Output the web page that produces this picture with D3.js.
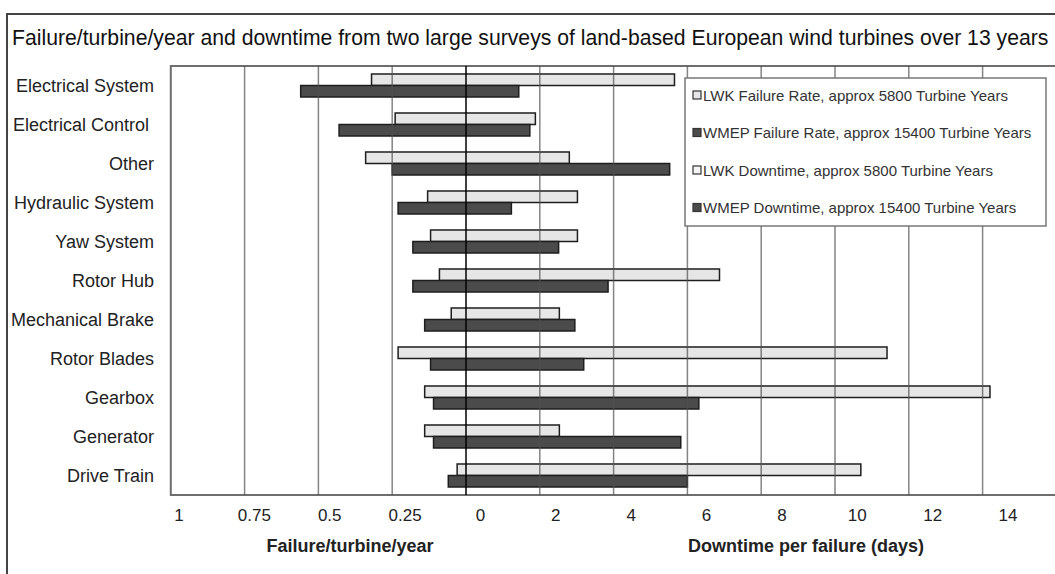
<!DOCTYPE html>
<head>
  <meta charset="utf-8">
  <script src="https://d3js.org/d3.v7.min.js"></script>
  <style>
    body { margin:0; background:#fff; }
    text { font-family: "Liberation Sans", Arial, sans-serif; }
  </style>
</head>
<body>
<script>
  // data
  var categories = ["Electrical System", "Electrical Control ", "Other", "Hydraulic System", "Yaw System",
                    "Rotor Hub", "Mechanical Brake", "Rotor Blades", "Gearbox", "Generator", "Drive Train"];
  var lwkFailure   = [0.32, 0.24, 0.34, 0.13, 0.12, 0.09, 0.05, 0.23, 0.14, 0.14, 0.03];
  var wmepFailure  = [0.56, 0.43, 0.25, 0.23, 0.18, 0.18, 0.14, 0.12, 0.11, 0.11, 0.06];
  var lwkDowntime  = [5.65, 1.88, 2.80, 3.02, 3.02, 6.87, 2.53, 11.41, 14.2, 2.53, 10.7];
  var wmepDowntime = [1.43, 1.73, 5.52, 1.23, 2.51, 3.85, 2.95, 3.19, 6.31, 5.82, 6.00];
  var tickLabels = ["1", "0.75", "0.5", "0.25", "0", "2", "4", "6", "8", "10", "12", "14"];
  var failGrid = [0.25, 0.5, 0.75];
  var downGrid = [2, 4, 6, 8, 10, 12, 14];
  var legendLabels = ["LWK Failure Rate, approx 5800 Turbine Years",
                      "WMEP Failure Rate, approx 15400 Turbine Years",
                      "LWK Downtime, approx 5800 Turbine Years",
                      "WMEP Downtime, approx 15400 Turbine Years"];

  var width = 1055, height = 574;
  var lightFill = "#e6e6e6", darkFill = "#4b4b4b";

  var svg = d3.select("body").append("svg")
    .attr("width", width).attr("height", height);

  // outer frame (runs off the right and bottom)
  svg.append("rect").attr("x", 7).attr("y", 14).attr("width", 1100).attr("height", 600)
    .attr("fill", "none").attr("stroke", "#444").attr("stroke-width", 2);

  svg.append("text").attr("x", 12).attr("y", 45)
    .attr("font-size", 21.2).attr("fill", "#111")
    .text("Failure/turbine/year and downtime from two large surveys of land-based European wind turbines over 13 years");

  var plotTop = 66, plotBottom = 495, zero = 466, unit = 73.8;

  var xFail = d3.scaleLinear().domain([0, 1]).range([zero, zero - 4 * unit]);
  var xDown = d3.scaleLinear().domain([0, 16]).range([zero, zero + 8 * unit]);

  var y = d3.scaleBand().domain(categories).range([plotTop, plotBottom])
    .paddingInner(0.41).paddingOuter(0.205);
  var ySub = d3.scaleBand().domain(["LWK", "WMEP"]).range([0, y.bandwidth()]);

  var rows = categories.map(function(c, i) {
    return [
      {cat: c, key: "LWK", f: lwkFailure[i], d: lwkDowntime[i], fill: lightFill},
      {cat: c, key: "WMEP", f: wmepFailure[i], d: wmepDowntime[i], fill: darkFill}
    ];
  });

  // plot area
  svg.append("rect").attr("x", xFail(1)).attr("y", plotTop)
    .attr("width", xDown(16) - xFail(1)).attr("height", plotBottom - plotTop)
    .attr("fill", "#fff").attr("stroke", "#6e6e6e").attr("stroke-width", 2);

  var g = svg.append("g");
  g.selectAll("g.row").data(rows).enter().append("g").attr("class", "row")
    .selectAll("rect").data(function(d) { return d; }).enter().append("rect")
      .attr("x", function(d) { return xFail(d.f); })
      .attr("y", function(d) { return y(d.cat) + ySub(d.key); })
      .attr("width", function(d) { return xDown(d.d) - xFail(d.f); })
      .attr("height", ySub.bandwidth())
      .attr("fill", function(d) { return d.fill; })
      .attr("stroke", "#1e1e1e").attr("stroke-width", 1.5);

  // gridlines drawn over the bars
  var grid = svg.append("g").attr("stroke", "#505050").attr("stroke-width", 1.5).attr("stroke-opacity", 0.7);
  grid.selectAll("line.f").data(failGrid).enter().append("line").attr("class", "f")
    .attr("x1", function(d) { return xFail(d); }).attr("x2", function(d) { return xFail(d); })
    .attr("y1", plotTop).attr("y2", plotBottom);
  grid.selectAll("line.d").data(downGrid).enter().append("line").attr("class", "d")
    .attr("x1", function(d) { return xDown(d); }).attr("x2", function(d) { return xDown(d); })
    .attr("y1", plotTop).attr("y2", plotBottom);
  svg.append("line").attr("x1", xDown(0)).attr("x2", xDown(0)).attr("y1", plotTop).attr("y2", plotBottom)
    .attr("stroke", "#000").attr("stroke-width", 1.5);

  // category labels
  svg.selectAll("text.cat").data(categories).enter().append("text").attr("class", "cat")
    .attr("x", 154).attr("y", function(d) { return y(d) + y.bandwidth() / 2 + 6; })
    .attr("text-anchor", "end").attr("font-size", 18).attr("fill", "#222")
    .style("white-space", "pre")
    .text(function(d) { return d; });

  // tick labels sit on their own evenly spaced axis
  var xLab = d3.scalePoint().domain(tickLabels).range([179, 1008]);
  svg.selectAll("text.tick").data(tickLabels).enter().append("text").attr("class", "tick")
    .attr("x", function(d) { return xLab(d); }).attr("y", 521)
    .attr("text-anchor", "middle").attr("font-size", 17).attr("fill", "#222")
    .text(function(d) { return d; });

  svg.append("text").attr("x", 350).attr("y", 552).attr("text-anchor", "middle")
    .attr("font-size", 18).attr("font-weight", "bold").attr("fill", "#222")
    .text("Failure/turbine/year");
  svg.append("text").attr("x", 806).attr("y", 552).attr("text-anchor", "middle")
    .attr("font-size", 18).attr("font-weight", "bold").attr("fill", "#222")
    .text("Downtime per failure (days)");

  // legend
  var lg = svg.append("g");
  lg.append("rect").attr("x", 685).attr("y", 78).attr("width", 361).attr("height", 148)
    .attr("fill", "#fff").attr("stroke", "#777").attr("stroke-width", 1.5);
  var ly = d3.scalePoint().domain(legendLabels).range([95, 207.5]);
  var legFill = [lightFill, darkFill, "#f4f4f4", darkFill];
  var item = lg.selectAll("g.item").data(legendLabels).enter().append("g").attr("class", "item")
    .attr("transform", function(d) { return "translate(0," + ly(d) + ")"; });
  item.append("rect").attr("x", 693).attr("y", -4).attr("width", 8).attr("height", 8)
    .attr("fill", function(d, i) { return legFill[i]; })
    .attr("stroke", "#333").attr("stroke-width", 1.2);
  item.append("text").attr("x", 703).attr("y", 5.5)
    .attr("font-size", 15).attr("fill", "#333")
    .text(function(d) { return d; });
</script>
</body>
